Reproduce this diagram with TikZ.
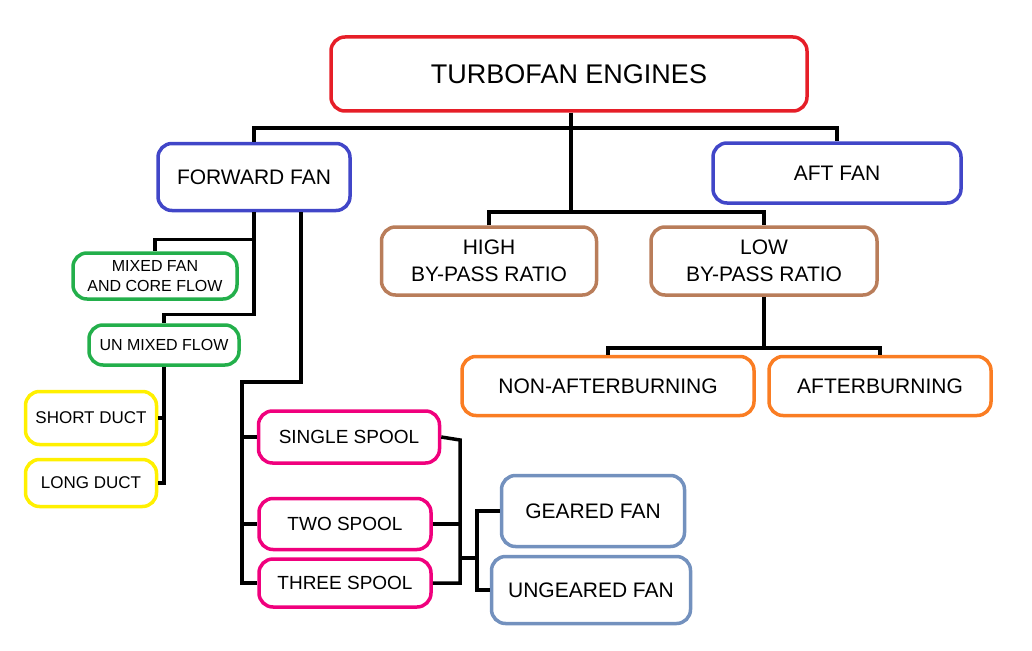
\documentclass[tikz,border=0pt]{standalone}
\usepackage{fontspec}
\setmainfont{Liberation Sans}
\definecolor{cred}{RGB}{230,30,40}
\definecolor{cblue}{RGB}{65,70,200}
\definecolor{cbrown}{RGB}{185,125,90}
\definecolor{cgreen}{RGB}{35,175,75}
\definecolor{cyel}{RGB}{255,240,0}
\definecolor{corange}{RGB}{250,125,35}
\definecolor{cpink}{RGB}{240,0,125}
\definecolor{csteel}{RGB}{115,145,190}
\begin{document}
\begin{tikzpicture}[x=1pt,y=-1pt,
  box/.style={draw=#1,line width=3.5pt,rounded corners=14pt,align=center,inner sep=0pt},
  wire/.style={line width=3.5pt,black}]
\useasboundingbox (0,0) rectangle (1032,650);
% boxes (centre, width, height)
\node[box=cred,minimum width=476,minimum height=74,font=\fontsize{27}{30}\selectfont] (tf) at (569,74) {TURBOFAN ENGINES};
\node[box=cblue,minimum width=192,minimum height=67,font=\fontsize{21}{24}\selectfont] (ff) at (254,177) {FORWARD FAN};
\node[box=cblue,minimum width=248,minimum height=60,font=\fontsize{21}{24}\selectfont] (af) at (837,173) {AFT FAN};
\node[box=cbrown,minimum width=215,minimum height=68,font=\fontsize{21}{27}\selectfont] (hb) at (489,261) {HIGH\\BY-PASS RATIO};
\node[box=cbrown,minimum width=226,minimum height=68,font=\fontsize{21}{27}\selectfont] (lb) at (764,261) {LOW\\BY-PASS RATIO};
\node[box=cgreen,minimum width=164,minimum height=46,font=\fontsize{16}{20}\selectfont] (mx) at (155,276) {MIXED FAN\\AND CORE FLOW};
\node[box=cgreen,minimum width=150,minimum height=40,font=\fontsize{16}{19}\selectfont] (um) at (164,345) {UN MIXED FLOW};
\node[box=cyel,minimum width=131,minimum height=53,font=\fontsize{17}{20}\selectfont] (sd) at (91,418) {SHORT DUCT};
\node[box=cyel,minimum width=131,minimum height=47,font=\fontsize{17}{20}\selectfont] (ld) at (91,483) {LONG DUCT};
\node[box=corange,minimum width=292,minimum height=59,font=\fontsize{21}{24}\selectfont] (na) at (608,386) {NON-AFTERBURNING};
\node[box=corange,minimum width=222,minimum height=59,font=\fontsize{21}{24}\selectfont] (ab) at (880,386) {AFTERBURNING};
\node[box=cpink,minimum width=181,minimum height=52,font=\fontsize{19}{22}\selectfont] (ss) at (349,437) {SINGLE SPOOL};
\node[box=cpink,minimum width=172,minimum height=51,font=\fontsize{19}{22}\selectfont] (ts) at (345,524) {TWO SPOOL};
\node[box=cpink,minimum width=172,minimum height=48,font=\fontsize{19}{22}\selectfont] (th) at (345,583) {THREE SPOOL};
\node[box=csteel,minimum width=183,minimum height=71,font=\fontsize{21}{24}\selectfont] (gf) at (593,511) {GEARED FAN};
\node[box=csteel,minimum width=199,minimum height=67,font=\fontsize{21}{24}\selectfont] (uf) at (591,590) {UNGEARED FAN};
% junction points
\coordinate (j1) at (571,128);
\coordinate (j2) at (571,212);
\coordinate (j3) at (764,348);
\coordinate (j4) at (301,382);
\coordinate (j5) at (460,558);
% connectors
\draw[wire] (tf.south -| j1) -- (j2);
\draw[wire] (ff.north) |- (j1) -| (af.north);
\draw[wire] (hb.north) |- (j2) -| (lb.north);
\draw[wire] (lb.south) -- (j3);
\draw[wire] (na.north) |- (j3) -| (ab.north);
\draw[wire] (ff.south) -- ++(0,102) -| (um.north);
\draw[wire] (ff.south) ++(0,27) -| (mx.north);
\draw[wire] (um.south) |- (ld.east);
\draw[wire] (sd.east) -- (sd.east -| um.south);
\draw[wire] (ff.south -| j4) -- (j4) -- (242,382) |- (th.west);
\draw[wire] (242,437) -- (ss.west);
\draw[wire] (242,524) -- (ts.west);
\draw[wire] (ss.east) -- (460,440) |- (th.east);
\draw[wire] (ts.east) -- (460,524);
\draw[wire] (j5) -- (477,558);
\draw[wire] (gf.west) -- (477,511) |- (uf.west);
\end{tikzpicture}
\end{document}
